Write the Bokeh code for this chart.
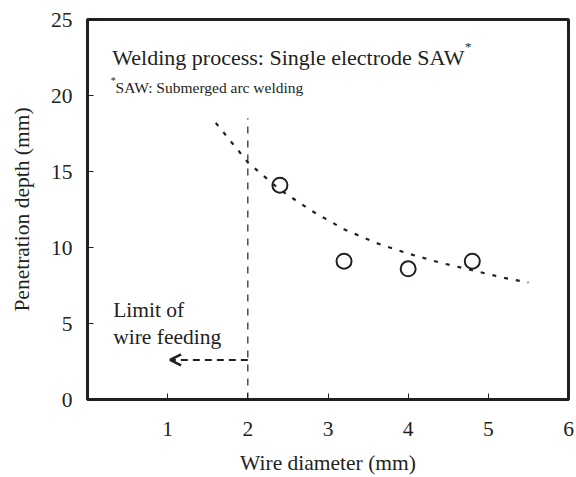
from bokeh.plotting import figure
from bokeh.models import Range1d, FixedTicker, Label, Arrow, OpenHead
from bokeh.embed import file_html
from bokeh.resources import INLINE

# Measured points
wire_diameter = [2.4, 3.2, 4.0, 4.8]
penetration = [14.1, 9.1, 8.6, 9.1]

# Trend curve
trend_x = [1.6, 2.0, 2.4, 2.8, 3.2, 3.6, 4.0, 4.4, 4.8, 5.2, 5.5]
trend_y = [18.2, 15.6, 13.8, 12.4, 11.2, 10.3, 9.6, 9.0, 8.5, 8.0, 7.7]

# Limit of wire feeding
limit_x = 2.0
limit_top = 18.5
arrow_y = 2.6
arrow_end_x = 1.03

x_ticks = [1, 2, 3, 4, 5, 6]
y_ticks = [0, 5, 10, 15, 20, 25]

FONT = "Liberation Serif"
INK = "#231f20"

p = figure(width=576, height=477, output_backend="svg", toolbar_location=None,
           x_range=Range1d(0, 6), y_range=Range1d(0, 25),
           min_border_left=87, min_border_right=8, min_border_top=19, min_border_bottom=74)
p.grid.visible = False
p.outline_line_color = INK
p.outline_line_width = 3
p.background_fill_color = "white"
p.border_fill_color = "white"

for ax, ticks in ((p.xaxis, x_ticks), (p.yaxis, y_ticks)):
    ax.ticker = FixedTicker(ticks=ticks)
    ax.axis_line_color = INK
    ax.axis_line_width = 3
    ax.major_tick_in = 6
    ax.major_tick_out = 0
    ax.major_tick_line_color = INK
    ax.major_tick_line_width = 1
    ax.minor_tick_line_color = None
    ax.major_label_text_font = FONT
    ax.major_label_text_font_size = "21.5px"
    ax.major_label_text_color = INK
    ax.axis_label_text_font = FONT
    ax.axis_label_text_font_size = "21.5px"
    ax.axis_label_text_font_style = "normal"
    ax.axis_label_text_color = INK

p.xaxis.axis_label = "Wire diameter (mm)"
p.yaxis.axis_label = "Penetration depth (mm)"
p.xaxis.major_label_standoff = 22
p.xaxis.axis_label_standoff = 12
p.yaxis.major_label_standoff = 15
p.yaxis.axis_label_standoff = 14

# trend curve
p.line(trend_x, trend_y, line_color=INK, line_width=2.2, line_dash="4 8")

# limit line
p.segment(x0=[limit_x], y0=[0], x1=[limit_x], y1=[limit_top], line_color=INK,
          line_width=1.2, line_dash="7 7")

# arrow
p.add_layout(Arrow(x_start=limit_x, y_start=arrow_y, x_end=arrow_end_x, y_end=arrow_y,
                   line_color=INK, line_width=2, line_dash="7 5",
                   end=OpenHead(size=11, line_color=INK, line_width=2.5)))

# data points
p.scatter(wire_diameter, penetration, marker="circle", size=15, fill_color=None,
          line_color=INK, line_width=2)

def lab(x, y, text, size, **kw):
    p.add_layout(Label(x=x, y=y, text=text, text_font=FONT, text_font_size=size,
                       text_color=INK, text_baseline="alphabetic", **kw))

lab(0.31, 22.5, "Welding process: Single electrode SAW", "22px")
lab(4.71, 23.2, "*", "13px")
lab(0.35, 20.5, "SAW: Submerged arc welding", "15.5px")
lab(0.29, 21.0, "*", "10px")
lab(0.32, 5.92, "Limit of", "21.5px")
lab(0.32, 4.1, "wire feeding", "21.5px")

open("out.html", "w").write(file_html(p, INLINE))
